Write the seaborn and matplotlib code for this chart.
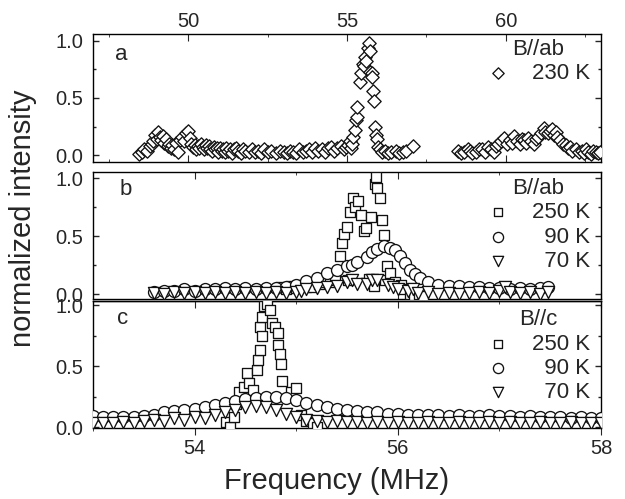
import matplotlib
matplotlib.use("Agg")
import matplotlib.pyplot as plt
from matplotlib.ticker import MultipleLocator
import seaborn as sns
import pandas as pd

# ---------------- data ----------------
# panel a : B//ab, 230 K (wide sweep)
freq_a = [48.45, 48.55, 48.62, 48.7, 48.78, 48.85, 48.9, 48.95, 49.0, 49.06, 49.1, 49.15, 49.2, 49.25,
          49.3, 49.35, 49.4, 49.45, 49.5, 49.55, 49.62, 49.68, 49.75, 49.81, 49.88, 49.94, 50.0, 50.05,
          50.1, 50.15, 50.2, 50.25, 50.3, 50.35, 50.4, 50.45, 50.5, 50.55, 50.6, 50.65, 50.7, 50.75,
          50.8, 50.85, 50.9, 50.95, 51.0, 51.05, 51.1, 51.15, 51.2, 51.25, 51.3, 51.38, 51.45, 51.5,
          51.57, 51.65, 51.72, 51.8, 51.9, 52.0, 52.1, 52.2, 52.3, 52.4, 52.5, 52.6, 52.75, 52.9,
          53.0, 53.1, 53.2, 53.3, 53.4, 53.5, 53.6, 53.7, 53.8, 53.9, 54.0, 54.1, 54.2, 54.3, 54.4,
          54.5, 54.6, 54.7, 54.8, 54.9, 54.97, 55.02, 55.08, 55.12, 55.17, 55.2, 55.25, 55.28, 55.3,
          55.32, 55.41, 55.45, 55.5, 55.53, 55.56, 55.6, 55.66, 55.7, 55.71, 55.74, 55.78, 55.8,
          55.82, 55.84, 55.88, 55.9, 55.93, 55.98, 56.03, 56.1, 56.2, 56.3, 56.4, 56.55, 56.65,
          56.75, 56.87, 57.08,
          58.49, 58.6, 58.68, 58.8, 58.87, 58.95, 59.06, 59.15, 59.25, 59.35, 59.43, 59.52, 59.62,
          59.7, 59.75, 59.85, 59.94, 60.03, 60.13, 60.2, 60.25, 60.35, 60.44, 60.5, 60.57, 60.65,
          60.69, 60.8, 60.88, 60.95, 61.0, 61.1, 61.19, 61.25, 61.32, 61.4, 61.45, 61.52, 61.57,
          61.62, 61.7, 61.8, 61.89, 61.95, 62.01, 62.1, 62.2, 62.3, 62.39, 62.45, 62.52, 62.6,
          62.7, 62.76, 62.83, 62.9, 62.96]
int_a = [0.01, 0.03, 0.05, 0.04, 0.08, 0.10, 0.12, 0.18, 0.14, 0.20, 0.16, 0.13, 0.17, 0.11,
         0.14, 0.08, 0.10, 0.06, 0.09, 0.05, 0.11, 0.03, 0.13, 0.16, 0.12, 0.19, 0.21, 0.15,
         0.10, 0.07, 0.09, 0.05, 0.08, 0.06, 0.10, 0.07, 0.05, 0.09, 0.06, 0.08, 0.05, 0.04,
         0.07, 0.05, 0.06, 0.03, 0.06, 0.04, 0.05, 0.03, 0.06, 0.04, 0.05, 0.02, 0.05, 0.06,
         0.04, 0.02, 0.05, 0.04, 0.03, 0.05, 0.03, 0.04, 0.02, 0.05, 0.03, 0.04, 0.02, 0.04,
         0.03, 0.02, 0.04, 0.03, 0.02, 0.05, 0.03, 0.04, 0.05, 0.03, 0.06, 0.04, 0.05, 0.03, 0.06,
         0.07, 0.04, 0.06, 0.08, 0.05, 0.07, 0.09, 0.12, 0.06, 0.10, 0.16, 0.22, 0.31, 0.33,
         0.42, 0.64, 0.72, 0.80, 0.78, 0.86, 0.82, 0.94, 0.98, 0.91, 0.73, 0.72, 0.68,
         0.56, 0.47, 0.25, 0.18, 0.14, 0.07, 0.05, 0.03, 0.04, 0.02, 0.03, 0.04, 0.02,
         0.03, 0.04, 0.08,
         0.04, 0.02, 0.03, 0.05, 0.04, 0.02, 0.03, 0.05, 0.05, 0.03, 0.07, 0.05, 0.03,
         0.08, 0.10, 0.12, 0.15, 0.10, 0.13, 0.11, 0.17, 0.12, 0.10, 0.14, 0.13, 0.11,
         0.15, 0.12, 0.10, 0.14, 0.16, 0.19, 0.24, 0.20, 0.19, 0.21, 0.23, 0.18, 0.20,
         0.16, 0.13, 0.10, 0.09, 0.06, 0.07, 0.04, 0.05, 0.03, 0.04, 0.02, 0.05, 0.03,
         0.01, 0.04, 0.03, 0.02, 0.03]

# panel b : B//ab
freq_b250 = [54.85, 54.9, 54.95, 55.0, 55.05, 55.1, 55.17, 55.22, 55.28, 55.33, 55.38, 55.43, 55.45,
             55.47, 55.5, 55.51, 55.53, 55.56, 55.58, 55.61, 55.64, 55.67, 55.69, 55.72, 55.74,
             55.77, 55.78, 55.79, 55.8, 55.82, 55.84, 55.86, 55.87, 55.89, 55.92, 55.97, 56.03,
             56.05, 56.12, 56.16, 56.21, 56.25]
int_b250 = [0.06, 0.04, 0.07, 0.05, 0.08, 0.06, 0.06, 0.09, 0.10, 0.10, 0.12, 0.33, 0.44,
            0.52, 0.58, 0.12, 0.71, 0.83, 0.75, 0.80, 0.68, 0.54, 0.57, 0.13, 0.66,
            0.07, 0.95, 1.01, 0.91, 0.83, 0.64, 0.51, 0.12, 0.24, 0.18, 0.10, 0.08,
            0.04, 0.00, -0.01, 0.00, -0.02]
freq_b90 = [53.6, 53.7, 53.8, 53.9, 54.0, 54.1, 54.2, 54.3, 54.4, 54.5, 54.6, 54.7, 54.8, 54.9,
            55.0, 55.1, 55.2, 55.3, 55.4, 55.5, 55.55, 55.6, 55.7, 55.75, 55.8, 55.86, 55.92,
            55.97, 56.02, 56.07, 56.12, 56.17, 56.22, 56.3, 56.4, 56.5, 56.6, 56.7, 56.8, 56.9,
            57.0, 57.1, 57.2, 57.3, 57.4, 57.48]
int_b90 = [0.02, 0.03, 0.03, 0.04, 0.03, 0.04, 0.04, 0.05, 0.04, 0.05, 0.04, 0.05, 0.05, 0.06,
           0.08, 0.11, 0.14, 0.18, 0.21, 0.24, 0.25, 0.28, 0.32, 0.36, 0.39, 0.41, 0.40,
           0.38, 0.33, 0.27, 0.21, 0.17, 0.14, 0.10, 0.08, 0.07, 0.07, 0.06, 0.06, 0.05,
           0.05, 0.04, 0.05, 0.04, 0.05, 0.06]
freq_b70 = [53.6, 53.7, 53.8, 53.9, 54.0, 54.1, 54.2, 54.3, 54.4, 54.5, 54.6, 54.7, 54.8, 54.9,
            55.0, 55.05, 55.1, 55.2, 55.3, 55.4, 55.5, 55.55, 55.6, 55.7, 55.75, 55.8, 55.9,
            55.95, 56.0, 56.1, 56.15, 56.2, 56.3, 56.4, 56.5, 56.6, 56.7, 56.8, 56.9, 57.0,
            57.06, 57.1, 57.2, 57.3, 57.4, 57.48]
int_b70 = [0.01, 0.00, 0.02, 0.01, 0.02, 0.01, 0.02, 0.01, 0.02, 0.01, 0.02, 0.01, 0.02, 0.01,
           0.02, 0.03, 0.04, 0.05, 0.06, 0.07, 0.10, 0.12, 0.09, 0.09, 0.12, 0.12, 0.08,
           0.06, 0.04, 0.03, 0.04, 0.01, 0.02, 0.00, 0.01, 0.00, 0.01, 0.02, 0.01, 0.03,
           0.06, 0.02, 0.01, 0.02, 0.00, 0.02]

# panel c : B//c
freq_c250 = [54.31, 54.35, 54.39, 54.41, 54.44, 54.49, 54.52, 54.54, 54.57, 54.61, 54.62, 54.64,
             54.645, 54.66, 54.665, 54.68, 54.71, 54.74, 54.76, 54.79, 54.82, 54.825, 54.84,
             54.85, 54.86, 54.95, 55.0, 55.05, 55.1, 55.17, 55.2]
int_c250 = [0.04, 0.00, 0.08, 0.19, 0.29, 0.33, 0.44, 0.36, 0.30, 0.47, 0.55, 0.63,
            0.82, 0.75, 0.90, 0.99, 1.01, 0.96, 0.85, 0.82, 0.77, 0.67, 0.60,
            0.52, 0.38, 0.29, 0.32, 0.10, 0.05, 0.03, 0.00]
freq_c90 = [53.0, 53.1, 53.2, 53.3, 53.4, 53.5, 53.6, 53.7, 53.8, 53.9, 54.0, 54.1, 54.2, 54.3,
            54.4, 54.5, 54.6, 54.7, 54.8, 54.9, 55.0, 55.1, 55.2, 55.3, 55.4, 55.5, 55.6, 55.7,
            55.8, 55.9, 56.0, 56.1, 56.2, 56.3, 56.4, 56.5, 56.6, 56.7, 56.8, 56.9, 57.0, 57.1,
            57.2, 57.3, 57.4, 57.5, 57.6, 57.7, 57.8, 57.9, 58.0]
int_c90 = [0.09, 0.08, 0.08, 0.08, 0.08, 0.09, 0.10, 0.12, 0.13, 0.14, 0.15, 0.16, 0.18, 0.20,
           0.21, 0.23, 0.24, 0.25, 0.25, 0.24, 0.22, 0.20, 0.18, 0.16, 0.15, 0.14, 0.13, 0.12,
           0.12, 0.11, 0.11, 0.10, 0.10, 0.10, 0.10, 0.09, 0.10, 0.09, 0.09, 0.10, 0.09, 0.09,
           0.08, 0.09, 0.08, 0.08, 0.08, 0.07, 0.08, 0.07, 0.07]
freq_c70 = [53.0, 53.1, 53.2, 53.3, 53.4, 53.5, 53.6, 53.7, 53.8, 53.9, 54.0, 54.1, 54.2, 54.3,
            54.4, 54.5, 54.6, 54.7, 54.8, 54.9, 55.0, 55.1, 55.2, 55.3, 55.4, 55.5, 55.6, 55.7,
            55.8, 55.9, 56.0, 56.1, 56.2, 56.3, 56.4, 56.5, 56.6, 56.7, 56.8, 56.9, 57.0, 57.1,
            57.2, 57.3, 57.4, 57.5, 57.6, 57.7, 57.8, 57.9, 58.0]
int_c70 = [0.03, 0.03, 0.03, 0.04, 0.03, 0.05, 0.06, 0.05, 0.07, 0.06, 0.08, 0.07, 0.10, 0.12,
           0.14, 0.16, 0.17, 0.16, 0.14, 0.11, 0.08, 0.06, 0.05, 0.04, 0.05, 0.04, 0.04, 0.03,
           0.04, 0.03, 0.04, 0.03, 0.03, 0.04, 0.03, 0.03, 0.04, 0.03, 0.03, 0.04, 0.03, 0.04,
           0.03, 0.03, 0.04, 0.03, 0.03, 0.04, 0.03, 0.03, 0.03]

panel_letters = ["a", "b", "c"]
field_labels = ["B//ab", "B//ab", "B//c"]
temp_labels = ["250 K", "\u200790 K", "\u200770 K"]

# ---------------- style ----------------
sns.set_style("ticks")
plt.rcParams["font.family"] = ["Liberation Sans", "DejaVu Sans"]
plt.rcParams["axes.linewidth"] = 1.0

EDGE = "#111111"
TICK_FS = 14.5
LEG_FS = 16

fig = plt.figure(figsize=(6.25, 4.99), dpi=100)
left, width = 0.1488, 0.8128
ax_a = fig.add_axes([left, 0.6754, width, 0.2565])
ax_b = fig.add_axes([left, 0.4008, width, 0.2545])
ax_c = fig.add_axes([left, 0.1423, width, 0.2545])


def scatter(ax, x, y, marker, s, label):
    df = pd.DataFrame({"freq": x, "intensity": y})
    sns.scatterplot(data=df, x="freq", y="intensity", ax=ax, marker=marker, s=s,
                    color="white", edgecolor=EDGE, linewidth=0.95, label=label,
                    legend=False, zorder=3)


# panel a
scatter(ax_a, freq_a, int_a, "D", 46, "230 K")
# panel b
scatter(ax_b, freq_b250, int_b250, "s", 56, temp_labels[0])
scatter(ax_b, freq_b90, int_b90, "o", 74, temp_labels[1])
scatter(ax_b, freq_b70, int_b70, "v", 76, temp_labels[2])
# panel c
scatter(ax_c, freq_c250, int_c250, "s", 56, temp_labels[0])
scatter(ax_c, freq_c90, int_c90, "o", 74, temp_labels[1])
scatter(ax_c, freq_c70, int_c70, "v", 76, temp_labels[2])

ylims = [(-0.06, 1.06), (-0.043, 1.052), (-0.008, 1.033)]
for ax, yl in zip([ax_a, ax_b, ax_c], ylims):
    ax.set_ylim(*yl)
    ax.set_xlabel("")
    ax.set_ylabel("")
    ax.yaxis.set_major_locator(MultipleLocator(0.5))
    ax.yaxis.set_minor_locator(MultipleLocator(0.25))
    ax.yaxis.set_major_formatter(matplotlib.ticker.FormatStrFormatter("%.1f"))
    ax.tick_params(axis="y", which="both", direction="in", left=True, right=True,
                   labelsize=TICK_FS, pad=7, width=1.0)
    ax.tick_params(axis="y", which="major", length=4.5)
    ax.tick_params(axis="y", which="minor", length=2.5)
    for sp in ax.spines.values():
        sp.set_visible(True)
        sp.set_linewidth(1.0)
        sp.set_color("black")

# x axes
ax_a.set_xlim(47, 63)
ax_a.xaxis.set_major_locator(MultipleLocator(5))
ax_a.xaxis.set_minor_locator(MultipleLocator(2.5))
ax_a.tick_params(axis="x", which="both", direction="in", top=True, bottom=True,
                 labeltop=True, labelbottom=False, labelsize=TICK_FS, pad=2)
ax_a.tick_params(axis="x", which="major", length=5)
ax_a.tick_params(axis="x", which="minor", length=2.5)

for ax in [ax_b, ax_c]:
    ax.set_xlim(53, 58)
    ax.xaxis.set_major_locator(MultipleLocator(2))
    ax.xaxis.set_minor_locator(MultipleLocator(1))

ax_b.tick_params(axis="x", which="both", direction="in", top=True, bottom=True,
                 labelbottom=False, labelsize=TICK_FS)
ax_b.tick_params(axis="x", which="major", length=5)
ax_b.tick_params(axis="x", which="minor", length=2.5)

ax_c.tick_params(axis="x", which="both", direction="out", top=False, bottom=True,
                 labelbottom=True, labelsize=TICK_FS, pad=3)
ax_c.tick_params(axis="x", which="major", length=5)
ax_c.tick_params(axis="x", which="minor", length=2.5)
sec = ax_c.secondary_xaxis("top")
sec.xaxis.set_major_locator(MultipleLocator(2))
sec.xaxis.set_minor_locator(MultipleLocator(1))
sec.tick_params(axis="x", which="both", direction="in", labeltop=False)
sec.tick_params(axis="x", which="major", length=5)
sec.tick_params(axis="x", which="minor", length=2.5)

# panel letters
letter_pos = [(0.043, 0.84), (0.053, 0.866), (0.047, 0.866)]
for ax, letter, (lx, ly) in zip([ax_a, ax_b, ax_c], panel_letters, letter_pos):
    ax.text(lx, ly, letter, transform=ax.transAxes, ha="left", va="center", fontsize=LEG_FS)

# legends
leg_y = [0.9625, 0.953, 0.935]
for ax, title, ly in zip([ax_a, ax_b, ax_c], field_labels, leg_y):
    h, l = ax.get_legend_handles_labels()
    leg = ax.legend(h, l, title=title, loc="upper right", bbox_to_anchor=(0.978, ly),
                    frameon=False, fontsize=LEG_FS, title_fontsize=LEG_FS,
                    borderpad=0, borderaxespad=0, labelspacing=0.15,
                    handlelength=1.0, handletextpad=1.0, markerscale=0.85)

fig.text(0.538, 0.02, "Frequency (MHz)", ha="center", va="baseline", fontsize=21)
fig.text(0.037, 0.562, "normalized intensity", rotation=90, ha="center", va="center",
         fontsize=21)

fig.savefig("out.png", dpi=100, facecolor="white")
